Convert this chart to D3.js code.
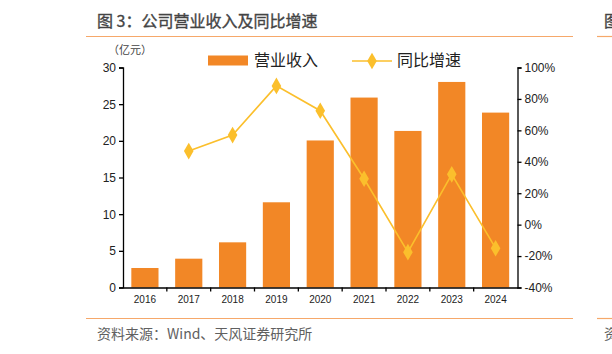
<!DOCTYPE html>
<html><head><meta charset="utf-8">
<script src="https://cdn.jsdelivr.net/npm/d3@7"></script>
<style>
body{margin:0;background:#fff;}
svg{display:block;}
text{font-family:"Liberation Sans",Arial,sans-serif;}
.cjk{font-family:"Noto Sans CJK SC","Noto Sans",sans-serif;}
</style></head>
<body><svg id="c" width="612" height="354"></svg>
<script>
const years = ["2016","2017","2018","2019","2020","2021","2022","2023","2024"];
const revenue = [2.66, 3.93, 6.16, 11.62, 20.05, 25.9, 21.35, 28.03, 23.85];
const growth = [null, 46.8, 57.0, 88.3, 72.5, 29.2, -17.5, 32.0, -15.0];
const leftTicks = [0,5,10,15,20,25,30];
const rightTicks = [-40,-20,0,20,40,60,80,100];

const svg = d3.select("#c");
const barColor = "#F28726", lineColor = "#FBBF2C", ruleColor = "#F6A86A", textGray = "#606060";
const L = 123, R = 517.5, T = 67.5, B = 287.5;

// title & rules
svg.append("text").attr("class","cjk").attr("x",97).attr("y",26.5).attr("font-size",16).attr("stroke","#444").attr("stroke-width",0.35).attr("fill","#444").text("图 3：公司营业收入及同比增速");
svg.append("line").attr("x1",86).attr("x2",573).attr("y1",36.5).attr("y2",36.5).attr("stroke",ruleColor).attr("stroke-width",1.2);
svg.append("line").attr("x1",597).attr("x2",612).attr("y1",36.5).attr("y2",36.5).attr("stroke",ruleColor).attr("stroke-width",1.2);
svg.append("text").attr("class","cjk").attr("x",604).attr("y",26.5).attr("font-size",16).attr("stroke","#444").attr("stroke-width",0.35).attr("fill","#444").text("图");
svg.append("line").attr("x1",86).attr("x2",573).attr("y1",318.5).attr("y2",318.5).attr("stroke",ruleColor).attr("stroke-width",1.2);
svg.append("line").attr("x1",597).attr("x2",612).attr("y1",318.5).attr("y2",318.5).attr("stroke",ruleColor).attr("stroke-width",1.2);
svg.append("text").attr("class","cjk").attr("x",97).attr("y",339).attr("font-size",14).attr("fill",textGray).text("资料来源：Wind、天风证券研究所");
svg.append("text").attr("class","cjk").attr("x",604).attr("y",339).attr("font-size",14).attr("fill",textGray).text("资");

svg.append("text").attr("class","cjk").attr("x",108).attr("y",54).attr("font-size",11).attr("fill","#444").text("（亿元）");

const x = d3.scaleBand().domain(years).range([L,R]).paddingInner(0.38).paddingOuter(0.19);
const yL = d3.scaleLinear().domain([0,30]).range([B,T]);
const yR = d3.scaleLinear().domain([-40,100]).range([B,T]);

// bars
svg.append("g").selectAll("rect").data(years).join("rect")
  .attr("x",d=>x(d)).attr("width",x.bandwidth())
  .attr("y",(d,i)=>yL(revenue[i])).attr("height",(d,i)=>B-yL(revenue[i]))
  .attr("fill",barColor);

// axes
const axL = svg.append("g").attr("transform",`translate(${L},0)`)
  .call(d3.axisLeft(yL).tickValues(leftTicks).tickSize(4).tickPadding(3));
const axR = svg.append("g").attr("transform",`translate(${R},0)`)
  .call(d3.axisRight(yR).tickValues(rightTicks).tickFormat(d=>d+"%").tickSize(4).tickPadding(3));
[axL,axR].forEach(a=>{
  a.selectAll("path,line").attr("stroke","#000").attr("stroke-width",1.3);
  a.selectAll("text").attr("font-size",12).attr("fill","#222").attr("font-family","Liberation Sans, Arial, sans-serif");
});
const axB = svg.append("g").attr("transform",`translate(0,${B})`)
  .call(d3.axisBottom(x).tickSize(0).tickPadding(8));
axB.select(".domain").attr("stroke","#000").attr("stroke-width",1.3);
axB.selectAll("text").attr("font-size",10).attr("fill","#222").attr("font-family","Liberation Sans, Arial, sans-serif");
// ticks between categories
const bounds = d3.range(1,years.length).map(i=>L + (R-L)*i/years.length);
svg.append("g").selectAll("line").data(bounds).join("line")
  .attr("x1",d=>d).attr("x2",d=>d).attr("y1",B).attr("y2",B+4)
  .attr("stroke","#000").attr("stroke-width",1.3);

// line
const pts = years.map((d,i)=>({x:x(d)+x.bandwidth()/2, v:growth[i]})).filter(p=>p.v!==null);
svg.append("path").datum(pts)
  .attr("d",d3.line().x(p=>p.x).y(p=>yR(p.v)))
  .attr("fill","none").attr("stroke",lineColor).attr("stroke-width",1.6);
const diamond = d3.symbol().type(d3.symbolDiamond).size(80);
svg.append("g").selectAll("path").data(pts).join("path")
  .attr("d",diamond).attr("transform",p=>`translate(${p.x},${yR(p.v)})`)
  .attr("fill",lineColor);

// legend
svg.append("rect").attr("x",208).attr("y",55.5).attr("width",40).attr("height",10).attr("fill",barColor);
svg.append("text").attr("class","cjk").attr("x",254).attr("y",66).attr("font-size",16).attr("fill","#222").text("营业收入");
svg.append("line").attr("x1",352).attr("x2",392).attr("y1",61).attr("y2",61).attr("stroke",lineColor).attr("stroke-width",1.6);
svg.append("path").attr("d",diamond).attr("transform","translate(372,61)").attr("fill",lineColor);
svg.append("text").attr("class","cjk").attr("x",397).attr("y",66).attr("font-size",16).attr("fill","#222").text("同比增速");
</script></body></html>
